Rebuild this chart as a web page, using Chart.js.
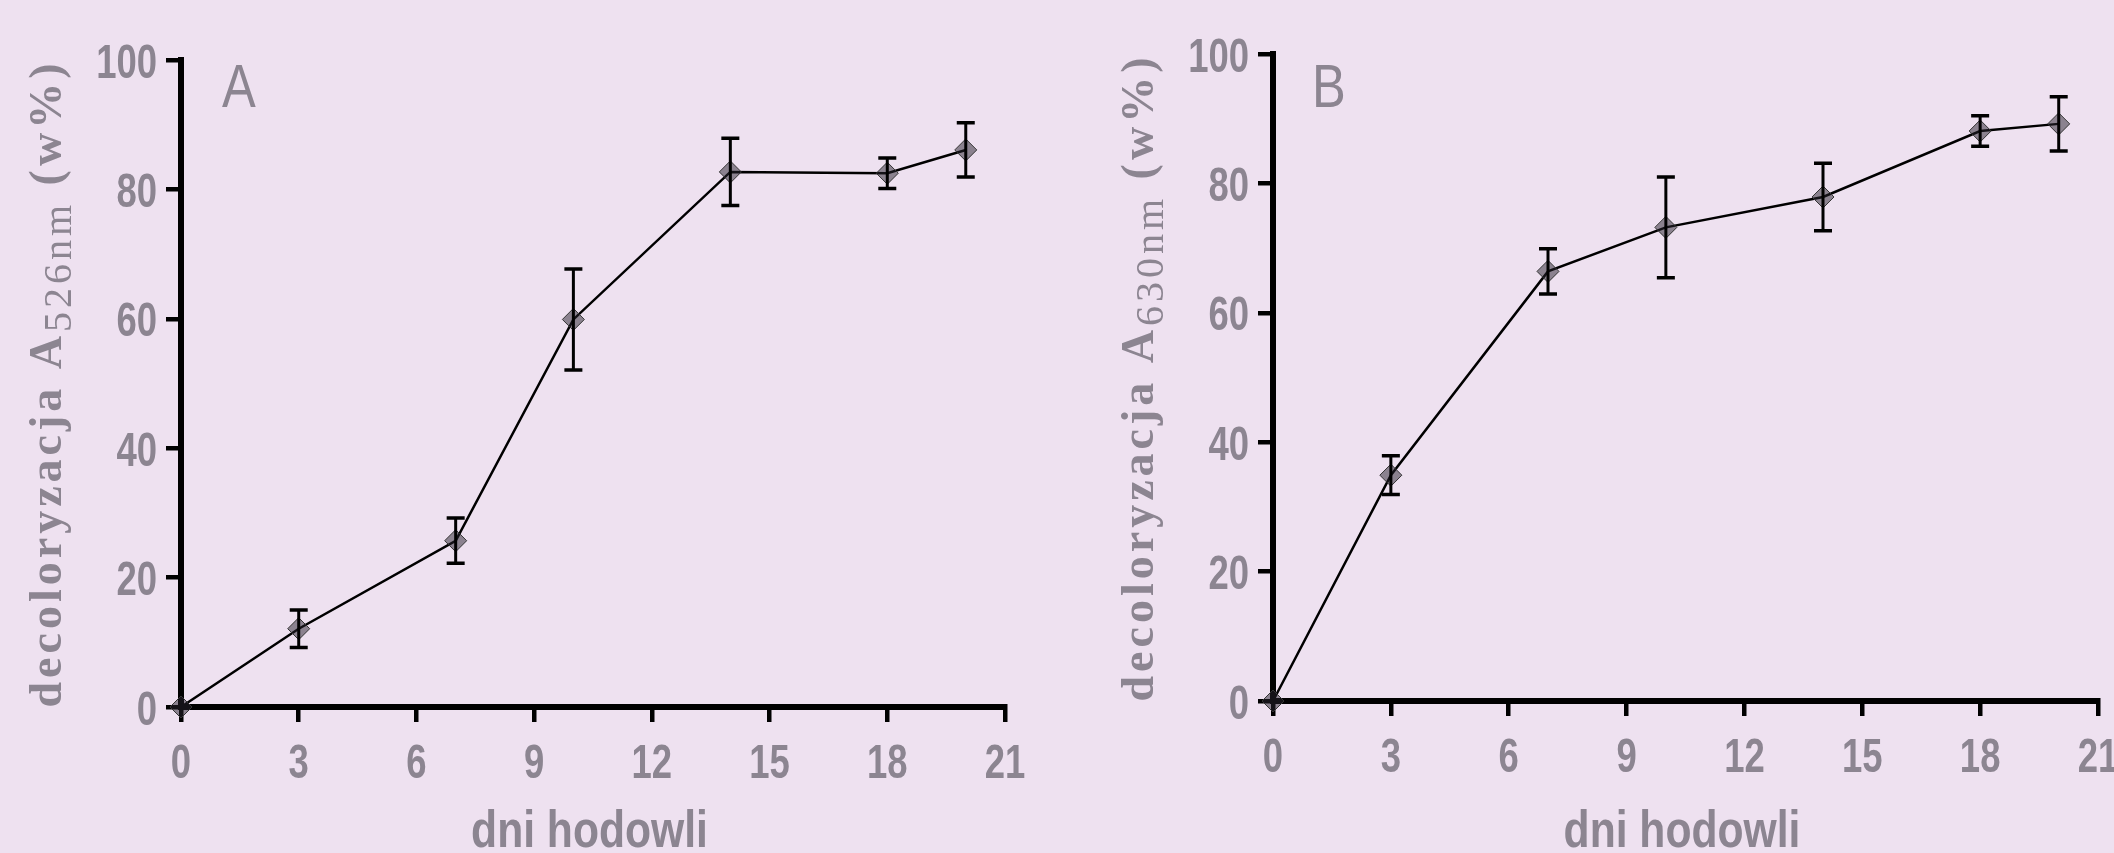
<!DOCTYPE html>
<html>
<head>
<meta charset="utf-8">
<script src="https://cdn.jsdelivr.net/npm/chart.js@4.4.0/dist/chart.umd.min.js"></script>
<style>
  html, body { margin: 0; padding: 0; background: #eee1f0; overflow: hidden; }
  body { width: 2114px; height: 853px; position: relative; }
  .panel { position: absolute; top: 0; }
</style>
</head>
<body>
<div class="panel" style="left:0"><canvas id="chartA" width="1057" height="853"></canvas></div>
<div class="panel" style="left:1057px"><canvas id="chartB" width="1100" height="853"></canvas></div>
<script>
// days of culture and decolorization (%) with error bars
const days = [0, 3, 7, 10, 14, 18, 20];
const decolA = [0, 12.1, 25.7, 59.9, 82.7, 82.5, 86.1];
const errA = [0, 2.9, 3.5, 7.8, 5.2, 2.35, 4.2];
const decolB = [0, 34.9, 66.4, 73.2, 77.9, 88.1, 89.2];
const errB = [0, 3.0, 3.5, 7.8, 5.2, 2.35, 4.2];
const xTicks = [0, 3, 6, 9, 12, 15, 18, 21];
const yTicks = [0, 20, 40, 60, 80, 100];

const textColor = '#8c8591';
const sans = "'Liberation Sans', Arial, sans-serif";
const serif = "'Liberation Serif', 'Times New Roman', serif";

// the original lettering is a narrow face, so squeeze the sans text horizontally
function narrowText(ctx, text, x, y, font, align, sx) {
    ctx.save();
    ctx.translate(x, y);
    ctx.scale(sx, 1);
    ctx.font = font;
    ctx.textAlign = align;
    ctx.textBaseline = 'alphabetic';
    ctx.fillText(text, 0, 0);
    ctx.restore();
}

// error bars, drawn through the library scales
const errorBars = {
    id: 'errorBars',
    afterDatasetsDraw(chart, args, opts) {
        const ctx = chart.ctx;
        const xs = chart.scales.x, ys = chart.scales.y;
        const vals = chart.data.datasets[0].data;
        ctx.save();
        ctx.strokeStyle = '#000';
        vals.forEach((p, i) => {
            const e = opts.errors[i];
            if (!e) return;
            const x = xs.getPixelForValue(p.x);
            const yt = ys.getPixelForValue(p.y + e);
            const yb = ys.getPixelForValue(p.y - e);
            ctx.lineWidth = 3;
            ctx.beginPath();
            ctx.moveTo(x, yt);
            ctx.lineTo(x, yb);
            ctx.stroke();
            ctx.lineWidth = 3.5;
            ctx.beginPath();
            ctx.moveTo(x - 9, yt); ctx.lineTo(x + 9, yt);
            ctx.moveTo(x - 9, yb); ctx.lineTo(x + 9, yb);
            ctx.stroke();
        });
        ctx.restore();
    }
};

// tick labels, axis titles and panel letter
const decorations = {
    id: 'decorations',
    afterDraw(chart, args, opts) {
        const ctx = chart.ctx;
        const area = chart.chartArea;
        const xs = chart.scales.x, ys = chart.scales.y;
        ctx.save();
        ctx.fillStyle = textColor;

        const tickFont = 'bold 48px ' + sans;
        xs.ticks.forEach(t => {
            narrowText(ctx, String(t.value), xs.getPixelForValue(t.value), area.bottom + 70.5, tickFont, 'center', 0.76);
        });
        ys.ticks.forEach(t => {
            narrowText(ctx, String(t.value), area.left - 24, ys.getPixelForValue(t.value) + 17.5, tickFont, 'right', 0.76);
        });

        narrowText(ctx, 'dni hodowli', (area.left + area.right) / 2 - 3.5, 847, 'bold 52px ' + sans, 'center', 0.82);
        narrowText(ctx, opts.letter, area.left + opts.letterDx, 107, '61px ' + sans, 'left', 0.83);

        // rotated axis title with subscript
        const runs = [
            { t: 'decoloryzacja A', font: 'bold 46px ' + serif, dy: 0 },
            { t: opts.sub, font: '40px ' + serif, dy: 10 },
            { t: ' (w%)', font: 'bold 46px ' + serif, dy: 0 }
        ];
        const spacing = 4;
        let total = 0;
        runs.forEach(r => {
            ctx.font = r.font;
            for (const ch of r.t) total += ctx.measureText(ch).width + spacing;
        });
        ctx.textAlign = 'left';
        ctx.textBaseline = 'alphabetic';
        ctx.translate(area.left - 120, (area.top + area.bottom) / 2);
        ctx.rotate(-Math.PI / 2);
        let pos = -total / 2;
        runs.forEach(r => {
            ctx.font = r.font;
            for (const ch of r.t) {
                ctx.fillText(ch, pos, r.dy);
                pos += ctx.measureText(ch).width + spacing;
            }
        });
        ctx.restore();
    }
};

function makeChart(id, values, errors, cfg) {
    const ctx = document.getElementById(id).getContext('2d');
    const points = days.map((d, i) => ({ x: d, y: values[i] }));
    return new Chart(ctx, {
        type: 'line',
        data: {
            datasets: [{
                data: points,
                borderColor: '#000',
                borderWidth: 2.5,
                pointStyle: 'rectRot',
                pointRadius: 11,
                pointBackgroundColor: 'rgba(40,35,45,0.5)',
                pointBorderColor: '#333',
                pointBorderWidth: 1,
                tension: 0,
                clip: false
            }]
        },
        options: {
            responsive: false,
            animation: false,
            devicePixelRatio: 1,
            layout: { padding: { left: 0, right: cfg.padRight, top: cfg.top, bottom: 0 } },
            plugins: {
                legend: { display: false },
                tooltip: { enabled: false },
                errorBars: { errors: errors },
                decorations: { letter: cfg.letter, sub: cfg.sub, letterDx: cfg.letterDx }
            },
            scales: {
                x: {
                    type: 'linear',
                    min: 0, max: 21,
                    afterBuildTicks: s => { s.ticks = xTicks.map(v => ({ value: v })); },
                    afterFit: s => { s.height = cfg.xHeight; },
                    ticks: { display: false },
                    grid: { drawOnChartArea: false, tickLength: 15, color: '#000', lineWidth: 4.5 },
                    border: { color: '#000', width: 6 }
                },
                y: {
                    min: 0, max: 100,
                    afterBuildTicks: s => { s.ticks = yTicks.map(v => ({ value: v })); },
                    afterFit: s => { s.width = cfg.yWidth; },
                    ticks: { display: false },
                    grid: { drawOnChartArea: false, tickLength: 15, color: '#000', lineWidth: 4.5 },
                    border: { color: '#000', width: 6 }
                }
            }
        },
        plugins: [errorBars, decorations]
    });
}

makeChart('chartA', decolA, errA, { letter: 'A', sub: '526nm', letterDx: 41, top: 60, padRight: 52, xHeight: 146, yWidth: 181 });
makeChart('chartB', decolB, errB, { letter: 'B', sub: '630nm', letterDx: 39, top: 54, padRight: 59, xHeight: 152, yWidth: 216 });
</script>
</body>
</html>
